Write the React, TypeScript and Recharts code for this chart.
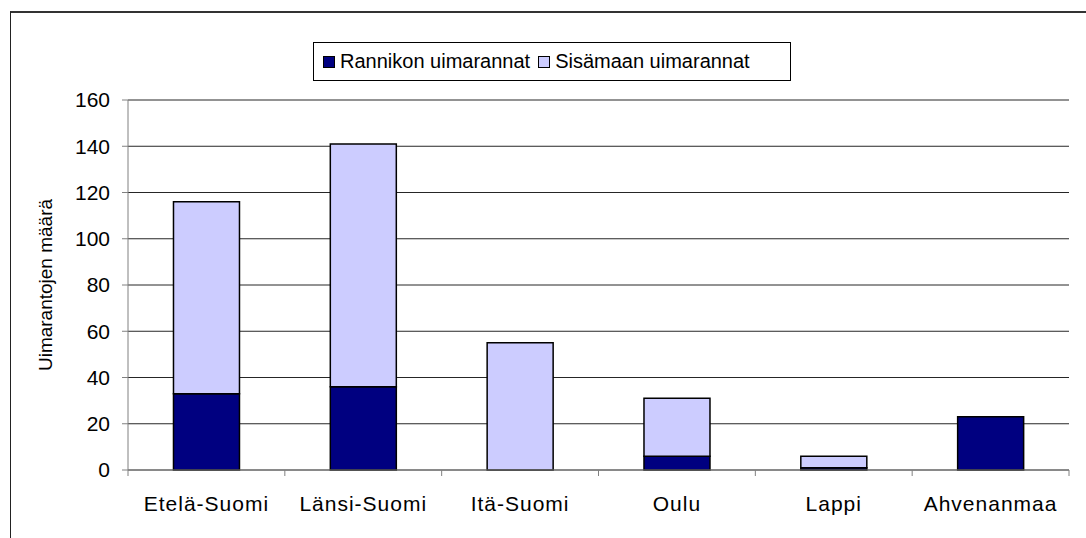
import React from 'react';
import { BarChart, Bar, XAxis, YAxis, CartesianGrid, Legend, Label } from 'recharts';

const categories = ['Etelä-Suomi', 'Länsi-Suomi', 'Itä-Suomi', 'Oulu', 'Lappi', 'Ahvenanmaa'];
const rannikko = [33, 36, 0, 6, 1, 23];
const sisamaa = [83, 105, 55, 25, 5, 0];
const yTicks = [0, 20, 40, 60, 80, 100, 120, 140, 160];
const seriesNames = ['Rannikon uimarannat', 'Sisämaan uimarannat'];
const yLabel = 'Uimarantojen määrä';

const data = categories.map((c, i) => ({ name: c, rannikko: rannikko[i], sisamaa: sisamaa[i] }));

const FONT = '"Liberation Sans", Arial, sans-serif';
const W = 1086;
const H = 538;
const LEFT = 128;
const RIGHT_M = 17;
const BAND = (W - LEFT - RIGHT_M) / categories.length;

const XTick = (props: any) => {
  const { x, y, payload, index } = props;
  const left = x - BAND / 2;
  const right = x + BAND / 2;
  return (
    <g>
      <line x1={left} x2={left} y1={y - 8} y2={y - 2} stroke="#808080" strokeWidth={1} />
      {index === categories.length - 1 && (
        <line x1={right} x2={right} y1={y - 8} y2={y - 2} stroke="#808080" strokeWidth={1} />
      )}
      <text x={x} y={y + 33} textAnchor="middle" fontSize={21} letterSpacing={1} fontFamily={FONT} fill="#000">
        {payload.value}
      </text>
    </g>
  );
};

const LegendBox = () => (
  <div
    style={{
      border: '1px solid #000',
      width: 476,
      height: 37,
      boxSizing: 'content-box',
      display: 'flex',
      alignItems: 'center',
      fontFamily: FONT,
      fontSize: 20,
      color: '#000',
      background: '#fff',
    }}
  >
    {[ '#000080', '#CCCCFF' ].map((c, i) => (
      <div key={i} style={{ display: 'flex', alignItems: 'center', marginLeft: i === 0 ? 9 : 8 }}>
        <span style={{ display: 'inline-block', width: 10, height: 10, background: c, border: '1px solid #000', marginRight: 5 }} />
        <span>{seriesNames[i]}</span>
      </div>
    ))}
  </div>
);

export default function App() {
  return (
    <div style={{ position: 'absolute', left: 0, top: 0, width: W, height: H, overflow: 'hidden', background: '#fff' }}>
      <div
        style={{
          position: 'absolute',
          left: 10,
          top: 11,
          width: 1200,
          height: 700,
          borderTop: '2px solid #333',
          borderLeft: '1px solid #222',
        }}
      />
      <div style={{ position: 'absolute', left: 0, top: 0 }}>
        <BarChart
          width={W}
          height={H}
          data={data}
          margin={{ top: 100, right: RIGHT_M, bottom: 0, left: 0 }}
          barCategoryGap="29%"
        >
          <CartesianGrid vertical={false} stroke="#000" strokeOpacity={0.85} />
          <XAxis
            dataKey="name"
            height={68}
            axisLine={{ stroke: '#808080' }}
            tickLine={false}
            tick={<XTick />}
            interval={0}
          />
          <YAxis
            width={LEFT}
            domain={[0, 160]}
            ticks={yTicks}
            interval={0}
            axisLine={{ stroke: '#808080' }}
            tickLine={{ stroke: '#808080' }}
            tickSize={6}
            tickMargin={12}
            tick={{ fontSize: 21, fontFamily: FONT, fill: '#000' }}
          >
            <Label
              content={(p: any) => {
                const vb = p.viewBox || { y: 100, height: 370 };
                const cy = vb.y + vb.height / 2;
                return (
                  <text
                    x={45}
                    y={cy}
                    transform={`rotate(-90, 45, ${cy})`}
                    textAnchor="middle"
                    dominantBaseline="central"
                    fontSize={19}
                    fontFamily={FONT}
                    fill="#000"
                  >
                    {yLabel}
                  </text>
                );
              }}
            />
          </YAxis>
          <Legend
            layout="horizontal"
            verticalAlign="middle"
            align="center"
            content={<LegendBox />}
            wrapperStyle={{ position: 'absolute', left: 313, top: 42, width: 478, height: 39 }}
          />
          <Bar dataKey="rannikko" stackId="a" fill="#000080" stroke="#000" strokeWidth={1.5} isAnimationActive={false} />
          <Bar dataKey="sisamaa" stackId="a" fill="#CCCCFF" stroke="#000" strokeWidth={1.5} isAnimationActive={false} />
        </BarChart>
      </div>
    </div>
  );
}
